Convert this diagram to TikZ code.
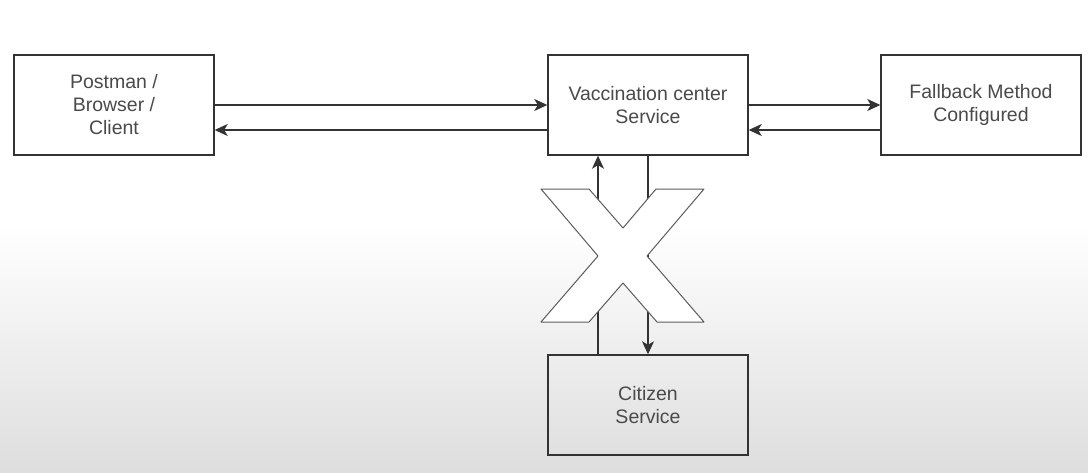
\documentclass[tikz,border=0pt]{standalone}
\usepackage{fontspec}
\setmainfont{Liberation Sans}
\usetikzlibrary{arrows.meta}
\definecolor{edgegray}{HTML}{333333}
\definecolor{textgray}{HTML}{4a4a4a}
\tikzstyle{service} = [draw=edgegray, line width=1.4pt, minimum width=200pt, minimum height=100pt, align=center, text=textgray, font=\fontsize{19.5}{23}\selectfont]
\tikzstyle{call} = [draw=edgegray, line width=1.4pt, -{Stealth[length=13pt,width=12pt,inset=3.5pt]}]

\begin{document}
\begin{tikzpicture}[x=1pt, y=-1pt]
	\useasboundingbox (0,0) rectangle (1088,472);
	\fill[white] (0,0) rectangle (1088,226);
	\shade[top color=white, bottom color=black!13] (0,225) rectangle (1088,472);

	\node[service] (client) at (114,105) {Postman /\\Browser /\\Client};
	\node[service] (vac) at (648,105) {Vaccination center\\Service};
	\node[service] (fb) at (981,105) {Fallback Method\\Configured};
	\node[service] (cit) at (648,405) {Citizen\\Service};

	\draw[call] (client.east) -- (vac.west);
	\draw[call] ([yshift=-25pt]vac.west) -- ([yshift=-25pt]client.east);
	\draw[call] (vac.east) -- (fb.west);
	\draw[call] ([yshift=-25pt]fb.west) -- ([yshift=-25pt]vac.east);
	\draw[call] ([xshift=-50pt]cit.north) -- ([xshift=-50pt]vac.south);
	\draw[call] (vac.south) -- (cit.north);

	% the cross over the link
	\filldraw[fill=white, draw=edgegray!80, line width=1pt, line join=round]
	(541,189) -- (589,189) -- (623,228) -- (656,189) -- (704,189) -- (647,256) -- (704,322) -- (657,322) -- (623,283) -- (589,322) -- (541,322) -- (598,256) -- cycle;
\end{tikzpicture}
\end{document}
